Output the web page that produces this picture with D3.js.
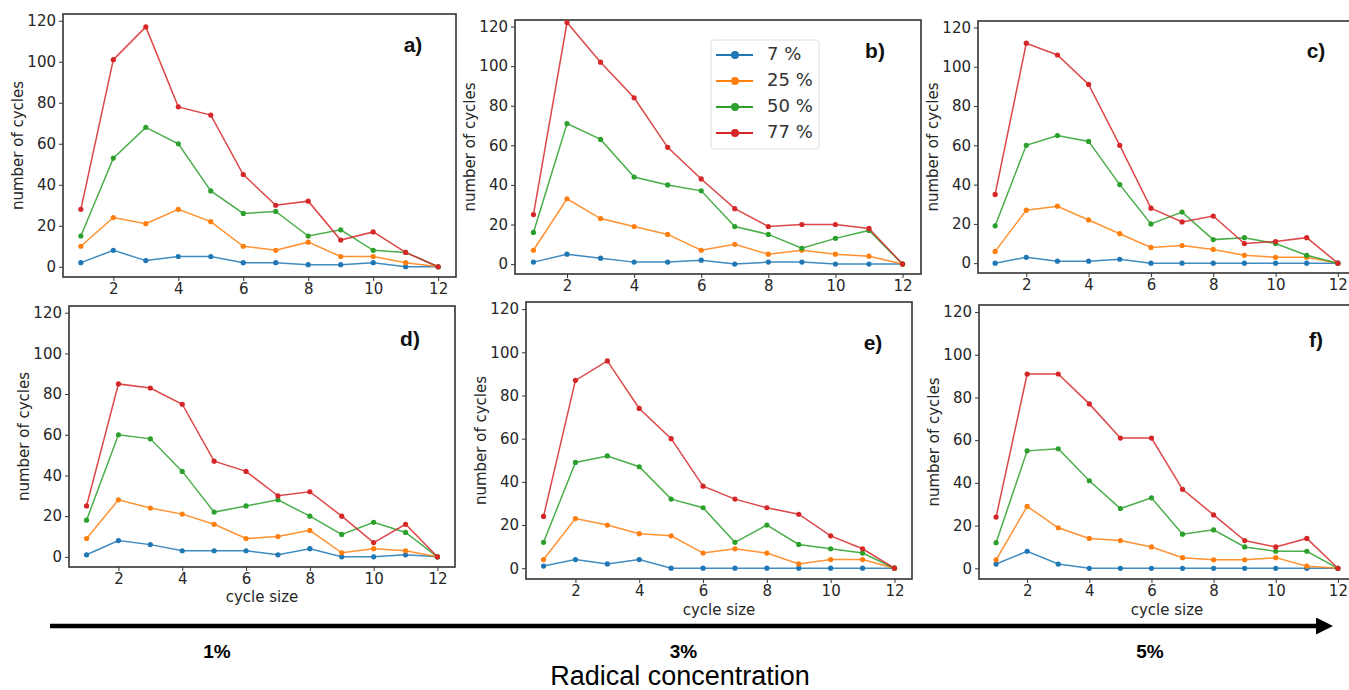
<!DOCTYPE html>
<html>
<head>
<meta charset="utf-8">
<script src="https://cdn.jsdelivr.net/npm/d3@7"></script>
<style>
  body { margin: 0; background: #fff; }
  svg { display: block; }
  .tick text { font-family: "DejaVu Sans", sans-serif; font-size: 15px; fill: #262626; }
  .tick line { stroke: #333; }
  .domain { display: none; }
</style>
</head>
<body>
<svg id="chart" width="1349" height="690"></svg>
<script>
// cycle sizes on the x axis
var cycleSizes = [1, 2, 3, 4, 5, 6, 7, 8, 9, 10, 11, 12];
var seriesNames = ["7 %", "25 %", "50 %", "77 %"];
var seriesColors = ["#1f77b4", "#ff7f0e", "#2ca02c", "#d62728"];
var xTicks = [2, 4, 6, 8, 10, 12];
var yTicks = [0, 20, 40, 60, 80, 100, 120];
var concentrations = ["1%", "3%", "5%"];

// a) 1% radical
var a7  = [2, 8, 3, 5, 5, 2, 2, 1, 1, 2, 0, 0];
var a25 = [10, 24, 21, 28, 22, 10, 8, 12, 5, 5, 2, 0];
var a50 = [15, 53, 68, 60, 37, 26, 27, 15, 18, 8, 7, 0];
var a77 = [28, 101, 117, 78, 74, 45, 30, 32, 13, 17, 7, 0];
// b) 3% radical
var b7  = [1, 5, 3, 1, 1, 2, 0, 1, 1, 0, 0, 0];
var b25 = [7, 33, 23, 19, 15, 7, 10, 5, 7, 5, 4, 0];
var b50 = [16, 71, 63, 44, 40, 37, 19, 15, 8, 13, 17, 0];
var b77 = [25, 122, 102, 84, 59, 43, 28, 19, 20, 20, 18, 0];
// c) 5% radical
var c7  = [0, 3, 1, 1, 2, 0, 0, 0, 0, 0, 0, 0];
var c25 = [6, 27, 29, 22, 15, 8, 9, 7, 4, 3, 3, 0];
var c50 = [19, 60, 65, 62, 40, 20, 26, 12, 13, 10, 4, 0];
var c77 = [35, 112, 106, 91, 60, 28, 21, 24, 10, 11, 13, 0];
// d) 1% radical
var d7  = [1, 8, 6, 3, 3, 3, 1, 4, 0, 0, 1, 0];
var d25 = [9, 28, 24, 21, 16, 9, 10, 13, 2, 4, 3, 0];
var d50 = [18, 60, 58, 42, 22, 25, 28, 20, 11, 17, 12, 0];
var d77 = [25, 85, 83, 75, 47, 42, 30, 32, 20, 7, 16, 0];
// e) 3% radical
var e7  = [1, 4, 2, 4, 0, 0, 0, 0, 0, 0, 0, 0];
var e25 = [4, 23, 20, 16, 15, 7, 9, 7, 2, 4, 4, 0];
var e50 = [12, 49, 52, 47, 32, 28, 12, 20, 11, 9, 7, 0];
var e77 = [24, 87, 96, 74, 60, 38, 32, 28, 25, 15, 9, 0];
// f) 5% radical
var f7  = [2, 8, 2, 0, 0, 0, 0, 0, 0, 0, 0, 0];
var f25 = [4, 29, 19, 14, 13, 10, 5, 4, 4, 5, 1, 0];
var f50 = [12, 55, 56, 41, 28, 33, 16, 18, 10, 8, 8, 0];
var f77 = [24, 91, 91, 77, 61, 61, 37, 25, 13, 10, 14, 0];

// panel frames (layout only)
var panels = [
    { label: "a)", series: [a7, a25, a50, a77], x0: 63,  x1: 456,  y0: 14,  y1: 277, lx: 413,  ly: 46, xLabel: null },
    { label: "b)", series: [b7, b25, b50, b77], x0: 515, x1: 921,  y0: 20,  y1: 274, lx: 875,  ly: 52, xLabel: null, legend: true },
    { label: "c)", series: [c7, c25, c50, c77], x0: 978, x1: 1355, y0: 21,  y1: 273, lx: 1316, ly: 52, xLabel: null },
    { label: "d)", series: [d7, d25, d50, d77], x0: 69,  x1: 455,  y0: 306, y1: 567, lx: 410,  ly: 340, xLabel: 597 },
    { label: "e)", series: [e7, e25, e50, e77], x0: 526, x1: 912,  y0: 302, y1: 579, lx: 873,  ly: 344, xLabel: 610 },
    { label: "f)", series: [f7, f25, f50, f77], x0: 979, x1: 1355, y0: 305, y1: 579, lx: 1316, ly: 341, xLabel: 610 }
];

var svg = d3.select("#chart");

panels.forEach(function (p) {
    var x = d3.scaleLinear().domain([0.45, 12.55]).range([p.x0, p.x1]);
    var y = d3.scaleLinear().domain([-5, 123.3]).range([p.y1, p.y0]);
    var g = svg.append("g");

    g.append("g")
        .attr("transform", "translate(0," + p.y1 + ")")
        .call(d3.axisBottom(x).tickValues(xTicks).tickSize(4).tickPadding(2).tickFormat(d3.format("d")));

    g.append("g")
        .attr("transform", "translate(" + p.x0 + ",0)")
        .call(d3.axisLeft(y).tickValues(yTicks).tickSize(4).tickPadding(3).tickFormat(d3.format("d")));

    g.append("rect")
        .attr("x", p.x0).attr("y", p.y0)
        .attr("width", p.x1 - p.x0).attr("height", p.y1 - p.y0)
        .attr("fill", "none").attr("stroke", "#333").attr("stroke-width", 1.6);

    var line = d3.line().x((d, i) => x(cycleSizes[i])).y(d => y(d));

    p.series.forEach(function (vals, k) {
        g.append("path")
            .datum(vals)
            .attr("d", line)
            .attr("fill", "none")
            .attr("stroke", seriesColors[k])
            .attr("stroke-width", 1.5)
            .attr("stroke-opacity", 0.85);

        g.selectAll(".pt" + k)
            .data(vals)
            .enter()
            .append("circle")
            .attr("cx", (d, i) => x(cycleSizes[i]))
            .attr("cy", d => y(d))
            .attr("r", 2.6)
            .attr("fill", seriesColors[k]);
    });

    g.append("text")
        .attr("transform", "translate(" + (p.x0 - 45) + "," + ((p.y0 + p.y1) / 2) + ") rotate(-90)")
        .attr("text-anchor", "middle")
        .attr("dominant-baseline", "middle")
        .style("font-family", "DejaVu Sans, sans-serif")
        .style("font-size", "15px")
        .style("fill", "#262626")
        .text("number of cycles");

    if (p.xLabel) {
        g.append("text")
            .attr("x", (p.x0 + p.x1) / 2)
            .attr("y", p.xLabel)
            .attr("text-anchor", "middle")
            .attr("dominant-baseline", "middle")
            .style("font-family", "DejaVu Sans, sans-serif")
            .style("font-size", "15px")
            .style("fill", "#262626")
            .text("cycle size");
    }

    g.append("text")
        .attr("x", p.lx)
        .attr("y", p.ly)
        .attr("text-anchor", "middle")
        .attr("dominant-baseline", "middle")
        .style("font-family", "Liberation Sans, Arial, sans-serif")
        .style("font-weight", "bold")
        .style("font-size", "21px")
        .style("fill", "#111")
        .text(p.label);

    if (p.legend) {
        var lg = g.append("g");
        lg.append("rect")
            .attr("x", 711).attr("y", 40).attr("width", 108).attr("height", 109)
            .attr("rx", 3)
            .attr("fill", "#fff").attr("stroke", "#ddd").attr("stroke-width", 1);
        var rowY = d3.scalePoint().domain(seriesNames).range([55, 133]);
        seriesNames.forEach(function (name, k) {
            lg.append("line")
                .attr("x1", 716).attr("x2", 753)
                .attr("y1", rowY(name)).attr("y2", rowY(name))
                .attr("stroke", seriesColors[k]).attr("stroke-width", 2.2);
            lg.append("circle")
                .attr("cx", 735).attr("cy", rowY(name)).attr("r", 4)
                .attr("fill", seriesColors[k]);
            lg.append("text")
                .attr("x", 767).attr("y", rowY(name))
                .attr("dominant-baseline", "middle")
                .style("font-family", "DejaVu Sans, sans-serif")
                .style("font-size", "18px")
                .style("fill", "#333")
                .text(name);
        });
    }
});

// radical concentration arrow
var arrowX = d3.scalePoint().domain(concentrations).range([217, 1150]);
svg.append("defs").append("marker")
    .attr("id", "head")
    .attr("viewBox", "0 0 10 10")
    .attr("refX", 0).attr("refY", 5)
    .attr("markerWidth", 19).attr("markerHeight", 17)
    .attr("markerUnits", "userSpaceOnUse")
    .attr("orient", "auto")
    .append("path")
    .attr("d", "M0,0 L10,5 L0,10 Z")
    .attr("fill", "#000");

svg.append("line")
    .attr("x1", 50).attr("x2", 1316)
    .attr("y1", 626).attr("y2", 626)
    .attr("stroke", "#000").attr("stroke-width", 4.5)
    .attr("marker-end", "url(#head)");

svg.selectAll(".conc")
    .data(concentrations)
    .enter()
    .append("text")
    .attr("class", "conc")
    .attr("x", d => arrowX(d))
    .attr("y", 658)
    .attr("text-anchor", "middle")
    .style("font-family", "Liberation Sans, Arial, sans-serif")
    .style("font-weight", "bold")
    .style("font-size", "19px")
    .text(d => d);

svg.append("text")
    .attr("x", 680)
    .attr("y", 685)
    .attr("text-anchor", "middle")
    .style("font-family", "Liberation Sans, Arial, sans-serif")
    .style("font-size", "27px")
    .text("Radical concentration");
</script>
</body>
</html>
